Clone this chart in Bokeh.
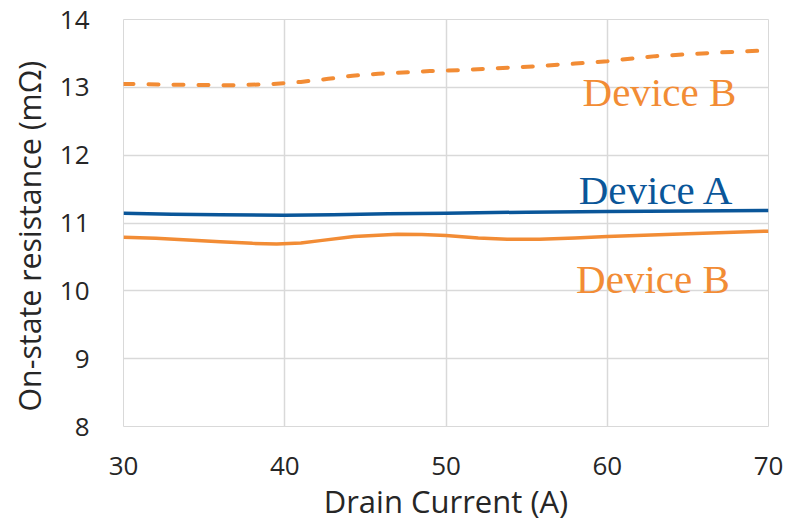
from bokeh.plotting import figure
from bokeh.models import Range1d, Label, FixedTicker, Title
from bokeh.embed import file_html
from bokeh.resources import INLINE

# Drain current sweep (A) and on-state resistance readings (mOhm)
current_a = [30, 33, 36, 40, 43, 46.4, 50, 55, 60, 65, 70]
device_a = [11.145, 11.13, 11.12, 11.115, 11.12, 11.135, 11.145, 11.16, 11.168, 11.176, 11.183]

current_b = [30, 32, 34, 36, 38, 39.5, 41, 42.2, 44.3, 47, 48.5, 50, 52, 53.8,
             55.8, 58, 60, 65, 70]
device_b = [10.79, 10.775, 10.75, 10.725, 10.70, 10.69, 10.705, 10.74, 10.80,
            10.833, 10.83, 10.815, 10.78, 10.76, 10.76, 10.78, 10.80, 10.84, 10.88]

current_b_hot = [30, 33, 36.5, 39, 41, 42.7, 44.2, 45.8, 49, 51, 55.5, 58, 60,
                 63, 67, 70]
device_b_hot = [13.05, 13.04, 13.03, 13.045, 13.08, 13.125, 13.17, 13.20, 13.24,
                13.255, 13.31, 13.35, 13.385, 13.46, 13.515, 13.545]

x_ticks = [30, 40, 50, 60, 70]
y_ticks = [8, 9, 10, 11, 12, 13, 14]

BLUE = "#0A5699"
ORANGE = "#F28C35"
GRID = "#D9D9D9"
INK = "#262626"

p = figure(width=787, height=524, output_backend="svg", toolbar_location=None,
           x_range=Range1d(30, 70), y_range=Range1d(8, 14),
           min_border_left=123, min_border_right=19,
           min_border_top=19, min_border_bottom=98)
p.outline_line_color = GRID
p.background_fill_color = "white"
p.border_fill_color = "white"

p.line(current_b_hot, device_b_hot, line_color=ORANGE, line_width=4,
       line_dash="10 15", line_cap="round", line_join="round")
p.line(current_a, device_a, line_color=BLUE, line_width=3.5, line_join="round")
p.line(current_b, device_b, line_color=ORANGE, line_width=3.5, line_join="round")

for ax in (p.xaxis[0], p.yaxis[0]):
    ax.axis_line_color = None
    ax.major_tick_line_color = None
    ax.minor_tick_line_color = None
    ax.major_label_text_font = "Open Sans"
    ax.major_label_text_font_size = "26px"
    ax.major_label_text_color = INK
    ax.axis_label_text_font = "Open Sans"
    ax.axis_label_text_font_size = "31px"
    ax.axis_label_text_font_style = "normal"
    ax.axis_label_text_color = INK

p.xaxis.ticker = FixedTicker(ticks=x_ticks)
p.yaxis.ticker = FixedTicker(ticks=y_ticks)
p.xaxis.major_label_standoff = 24
p.yaxis.major_label_standoff = 28
p.xaxis.axis_label = "Drain Current (A)"
p.xaxis.axis_label_standoff = 2

# vertical title for the resistance axis, anchored from the bottom of the side
p.add_layout(Title(text="On-state resistance (mΩ)", align="left", offset=15,
                   standoff=13, text_font="Open Sans", text_font_size="30.3px",
                   text_font_style="normal", text_color=INK), "left")

p.xgrid.ticker = FixedTicker(ticks=x_ticks)
p.ygrid.ticker = FixedTicker(ticks=y_ticks)
p.grid.grid_line_color = GRID
p.grid.grid_line_width = 1.5

label_style = dict(text_font="Liberation Serif", text_font_size="41px",
                   text_align="right", text_baseline="alphabetic")
p.add_layout(Label(x=68.0, y=12.925, text="Device B", text_color=ORANGE, **label_style))
p.add_layout(Label(x=67.9, y=11.49, text="Device A", text_color=BLUE, **label_style))
p.add_layout(Label(x=67.6, y=10.17, text="Device B", text_color=ORANGE, **label_style))

open("out.html", "w").write(file_html(p, INLINE))
